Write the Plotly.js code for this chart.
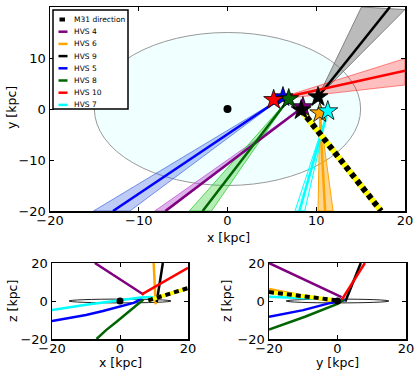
<!DOCTYPE html>
<html>
<head>
<meta charset="utf-8">
<script src="https://cdn.plot.ly/plotly-3.0.1.min.js"></script>
<style>
  html, body { margin: 0; padding: 0; background: #fff; }
  #chart { width: 415px; height: 371px; }
</style>
</head>
<body>
<div id="chart"></div>
<script>
// HVS names, in legend order
const names = ['HVS 4', 'HVS 6', 'HVS 9', 'HVS 5', 'HVS 8', 'HVS 10', 'HVS 7'];
const lineColors = ['#800080', '#FFA500', '#000000', '#0000FF', '#006400', '#FF0000', '#00FFFF'];
const bandFills = ['rgba(186,85,211,0.45)', 'rgba(255,165,0,0.45)', 'rgba(120,120,120,0.5)',
                   'rgba(65,105,225,0.35)', 'rgba(50,205,50,0.35)', 'rgba(255,0,0,0.25)', 'rgba(0,255,255,0.12)'];
const bandEdges = ['rgba(186,85,211,0.75)', '#FFA500', 'rgba(110,110,110,0.8)',
                   'rgba(65,105,225,0.7)', 'rgba(50,205,50,0.8)', 'rgba(255,0,0,0.45)', '#00FFFF'];

// x-y plane: current positions and back-traced directions
const starX = [8.5, 10.4, 10.2, 6.25, 6.9, 5.2, 11.3];
const starY = [0.4, -0.8, 2.35, 2.35, 1.96, 1.8, -0.4];
const lineEndX = [-7.0, 11.0, 18.3, -12.9, -2.8, 20, 8.1];
const lineEndY = [-20, -20, 20, -20, -20, 7.5, -20];
const bandLoX = [-8.2, 10.2, 15.1, -15.1, -4.3, 20, 7.6];
const bandLoY = [-20, -20, 20, -20, -20, 4.7, -20];
const bandHiX = [-6.8, 11.9, 20, -11.0, -1.8, 20, 8.7];
const bandHiY = [-20, -20, 19.5, -20, -20, 9.9, -20];

// Sun and M31 direction
const sunX = 8.3, sunY = -0.2;
const m31X = [8.3, 17.3], m31Y = [-0.2, -20];
const m31XZ_x = [8.3, 20], m31XZ_z = [0.3, 6.8];
const m31YZ_y = [-20, 0], m31YZ_z = [4.7, 0.3];

// x-z plane paths
const xzX = [
  [-7.4, 7.0],
  [9.9, 10.5],
  [12.6, 10.8],
  [-20, -10, -5, 0, 4, 6.5],
  [-6.9, -4, -1, 2, 4, 6.9],
  [20, 6.4],
  [-20, -10, 0, 6, 9, 11.0]
];
const xzZ = [
  [20, 3.3],
  [20, -1.8],
  [20, -0.5],
  [-10.5, -7.4, -5.3, -3.0, -1.0, 1.2],
  [-20, -15.2, -10.9, -6.5, -3.8, 0.8],
  [17.5, 3.5],
  [-4.8, -2.0, 0.4, 1.8, 2.1, 1.2]
];

// y-z plane paths
const yzY = [
  [-20, 1.2],
  [-20, -0.8],
  [6.8, 2.3],
  [-20, -10, -2, 2.3],
  [-20, -9.5, 0, 2.0],
  [8.0, 1.3],
  [-20, -0.4]
];
const yzZ = [
  [20, 2.0],
  [6.3, -0.5],
  [20, -0.3],
  [-8.3, -4.8, -1.0, 0.5],
  [-15, -8.3, -1.5, 0.8],
  [20, 0.8],
  [2.3, 0.8]
];

const W = 415, H = 371;
const px = v => v / W;
const py = v => 1 - v / H;

const traces = [];

// bands (x-y)
names.forEach((n, i) => {
  traces.push({
    x: [starX[i], bandLoX[i], bandHiX[i], starX[i]],
    y: [starY[i], bandLoY[i], bandHiY[i], starY[i]],
    xaxis: 'x', yaxis: 'y', mode: 'lines', fill: 'toself',
    fillcolor: bandFills[i], line: {color: bandEdges[i], width: 1},
    showlegend: false, hoverinfo: 'skip'
  });
});
// centre lines (x-y)
names.forEach((n, i) => {
  traces.push({
    x: [starX[i], lineEndX[i]], y: [starY[i], lineEndY[i]],
    xaxis: 'x', yaxis: 'y', mode: 'lines', name: n,
    line: {color: lineColors[i], width: 2.5}, showlegend: false
  });
});

// M31 direction, yellow under black dashes
function m31(xs, ys, xa, ya, w) {
  traces.push({x: xs, y: ys, xaxis: xa, yaxis: ya, mode: 'lines',
    line: {color: '#FFFF00', width: w}, showlegend: false});
  traces.push({x: xs, y: ys, xaxis: xa, yaxis: ya, mode: 'lines',
    line: {color: '#000000', width: w, dash: '5px,4px'}, showlegend: false});
}
m31(m31X, m31Y, 'x', 'y', 6);

// Galactic centre
traces.push({x: [0], y: [0], xaxis: 'x', yaxis: 'y', mode: 'markers',
  marker: {color: '#000', size: 8}, showlegend: false});

// stars
names.forEach((n, i) => {
  traces.push({x: [starX[i]], y: [starY[i]], xaxis: 'x', yaxis: 'y', mode: 'markers',
    marker: {symbol: 'star', size: 15, color: lineColors[i], line: {color: '#000', width: 0.8}},
    showlegend: false});
});
traces.push({x: [sunX], y: [sunY], xaxis: 'x', yaxis: 'y', mode: 'markers',
  marker: {symbol: 'star', size: 15, color: '#000', line: {color: '#000', width: 0.8}},
  showlegend: false});

// x-z and y-z panels
names.forEach((n, i) => {
  traces.push({x: xzX[i], y: xzZ[i], xaxis: 'x2', yaxis: 'y2', mode: 'lines',
    line: {color: lineColors[i], width: 2.5}, showlegend: false});
  traces.push({x: yzY[i], y: yzZ[i], xaxis: 'x3', yaxis: 'y3', mode: 'lines',
    line: {color: lineColors[i], width: 2.5}, showlegend: false});
});
m31(m31XZ_x, m31XZ_z, 'x2', 'y2', 4);
m31(m31YZ_y, m31YZ_z, 'x3', 'y3', 4);
traces.push({x: [0], y: [0], xaxis: 'x2', yaxis: 'y2', mode: 'markers',
  marker: {color: '#000', size: 7}, showlegend: false});
traces.push({x: [0], y: [0], xaxis: 'x3', yaxis: 'y3', mode: 'markers',
  marker: {color: '#000', size: 7}, showlegend: false});

const font = {family: 'DejaVu Sans, sans-serif', size: 13, color: '#000'};
function axis(domain, anchor, extra) {
  return Object.assign({
    domain: domain, anchor: anchor, range: [-20, 20], dtick: 10,
    showline: true, linecolor: '#000', linewidth: 1.5, mirror: 'ticks',
    ticks: 'inside', ticklen: 4, tickcolor: '#000', tickwidth: 1,
    showgrid: false, zeroline: false, tickfont: font
  }, extra || {});
}

// manual legend
const legendNames = ['M31 direction'].concat(names);
const legendColors = ['#000000'].concat(lineColors);
const shapes = [
  {type: 'circle', xref: 'x', yref: 'y', x0: -15, x1: 15, y0: -15, y1: 15,
   fillcolor: '#F0FFFF', line: {color: '#999', width: 1}, layer: 'below'},
  {type: 'circle', xref: 'x2', yref: 'y2', x0: -15, x1: 15, y0: -1, y1: 1,
   line: {color: '#222', width: 1}, layer: 'below'},
  {type: 'circle', xref: 'x3', yref: 'y3', x0: -15, x1: 15, y0: -1, y1: 1,
   line: {color: '#222', width: 1}, layer: 'below'},
  {type: 'rect', xref: 'paper', yref: 'paper', x0: px(53), x1: px(128), y0: py(109), y1: py(10),
   fillcolor: '#fff', line: {color: '#000', width: 1.5}, layer: 'above'}
];
const annotations = [];
legendNames.forEach((n, i) => {
  const yy = 19.5 + 12.2 * i;
  shapes.push({type: 'line', xref: 'paper', yref: 'paper',
    x0: px(i === 0 ? 59.5 : 58.5), x1: px(i === 0 ? 65 : 67.5), y0: py(yy), y1: py(yy),
    line: {color: legendColors[i], width: i === 0 ? 4 : 2.5}, layer: 'above'});
  annotations.push({xref: 'paper', yref: 'paper', x: px(72), y: py(yy),
    xanchor: 'left', yanchor: 'middle', text: n, showarrow: false,
    font: {family: font.family, size: 7.5, color: '#000'}});
});

// axis titles, placed as annotations
const titleFont = {family: font.family, size: 12.5, color: '#000'};
const axisTitles = [
  {text: 'x [kpc]', x: 228, y: 237, angle: 0},
  {text: 'y [kpc]', x: 12, y: 108, angle: -90},
  {text: 'x [kpc]', x: 120, y: 362, angle: 0},
  {text: 'z [kpc]', x: 12, y: 301, angle: -90},
  {text: 'y [kpc]', x: 337, y: 362, angle: 0},
  {text: 'z [kpc]', x: 226, y: 301, angle: -90}
];
axisTitles.forEach(t => {
  annotations.push({xref: 'paper', yref: 'paper', x: px(t.x), y: py(t.y),
    xanchor: 'center', yanchor: 'middle', text: t.text, textangle: t.angle,
    showarrow: false, borderpad: 0, font: titleFont});
});

const xTick = {ticklabelstandoff: -3};
const layout = {
  width: W, height: H,
  margin: {l: 0, r: 0, t: 0, b: 0},
  paper_bgcolor: '#fff', plot_bgcolor: '#fff',
  showlegend: false, hovermode: false,
  xaxis: axis([px(50), px(405)], 'y', xTick),
  yaxis: axis([py(211), py(7)], 'x'),
  xaxis2: axis([px(52), px(188)], 'y2', Object.assign({dtick: 20}, xTick)),
  yaxis2: axis([py(339), py(263)], 'x2', {dtick: 20}),
  xaxis3: axis([px(269), px(406)], 'y3', Object.assign({dtick: 20}, xTick)),
  yaxis3: axis([py(339), py(263)], 'x3', {dtick: 20}),
  shapes: shapes,
  annotations: annotations
};

Plotly.newPlot('chart', traces, layout, {displayModeBar: false, staticPlot: true});
</script>
</body>
</html>
